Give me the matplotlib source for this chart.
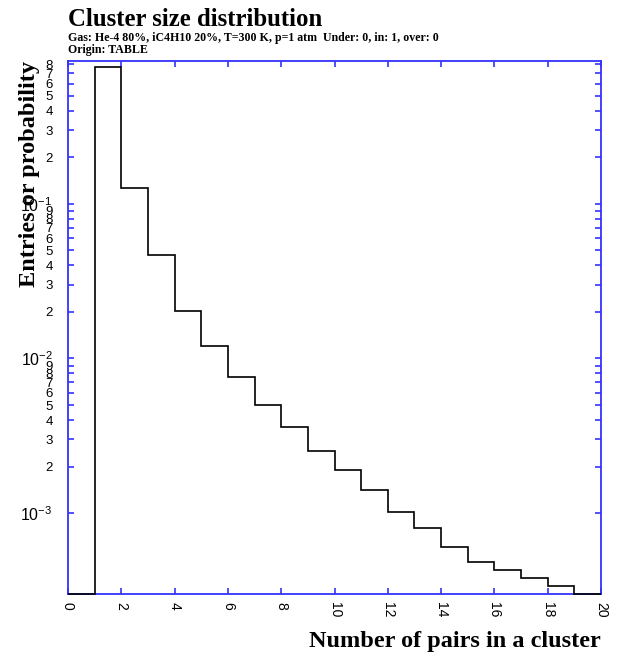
import numpy as np
import matplotlib
matplotlib.use('Agg')
import matplotlib.pyplot as plt
from matplotlib.ticker import FixedLocator, FixedFormatter

# cluster size distribution (probability per bin), bins 0..20
edges = np.arange(0, 21)
prob = [0.0, 0.773, 0.127, 0.0464, 0.0202, 0.0121, 0.00757, 0.00501, 0.00363,
        0.00252, 0.00191, 0.00142, 0.00101, 0.000805, 0.000607, 0.000483,
        0.000431, 0.000381, 0.000340, 0.0]
ylo, yhi = 3.0e-4, 0.839

title = 'Cluster size distribution'
subtitle = 'Gas: He-4 80%, iC4H10 20%, T=300 K, p=1 atm  Under: 0, in: 1, over: 0'
origin = 'Origin: TABLE'
xlab = 'Number of pairs in a cluster'
ylab = 'Entries or probability'

plt.rcParams['font.family'] = 'Liberation Sans'
plt.rcParams['mathtext.default'] = 'regular'

blue = '#3333ff'
serif = 'Liberation Serif'

fig = plt.figure(figsize=(6.4, 6.57), dpi=100)
ax = fig.add_axes([68/640, 1-594/657, (601-68)/640, (594-61)/657])

vals = np.maximum(np.array(prob), ylo)
ax.stairs(vals, edges, color='black', lw=1.2, baseline=None, zorder=5, clip_on=False)

ax.set_yscale('log')
ax.set_xlim(0, 20)
ax.set_ylim(ylo, yhi)

for s in ax.spines.values():
    s.set_color(blue)
    s.set_linewidth(1.3)

ax.set_xticks(np.arange(0, 21, 2))
ax.set_xticklabels([str(v) for v in range(0, 21, 2)], rotation=-90, fontsize=10)
ax.tick_params(axis='x', which='major', direction='in', top=True, bottom=True,
               length=4, width=1.2, color=blue, pad=6)

major = [1e-3, 1e-2, 1e-1]
minor = [n * 10.0**k for k in (-3, -2, -1) for n in range(2, 10)]
minor = [m for m in minor if ylo <= m <= yhi]
ax.yaxis.set_major_locator(FixedLocator(major))
ax.yaxis.set_major_formatter(FixedFormatter([r'$10^{-3}$', r'$10^{-2}$', r'$10^{-1}$']))
ax.yaxis.set_minor_locator(FixedLocator(minor))
ax.yaxis.set_minor_formatter(FixedFormatter([str(int(round(m / 10.0**np.floor(np.log10(m) + 1e-9)))) for m in minor]))
ax.tick_params(axis='y', which='both', direction='in', left=True, right=True,
               length=4, width=1.2, color=blue, pad=11)
ax.tick_params(axis='y', which='major', labelsize=11.5)
ax.tick_params(axis='y', which='minor', labelsize=9.5)

fig.text(68/640, 1-20/657, title, family=serif, weight='bold', fontsize=17.8, va='center', ha='left')
fig.text(68/640, 1-38/657, subtitle, family=serif, weight='bold', fontsize=8.6, va='center', ha='left')
fig.text(68/640, 1-50/657, origin, family=serif, weight='bold', fontsize=8.6, va='center', ha='left')
fig.text(601/640, 1-641/657, xlab, family=serif, weight='bold', fontsize=17.5, va='center', ha='right')
fig.text(30/640, 1-61/657, ylab, family=serif, weight='bold', fontsize=17.5, va='top', ha='center', rotation=90)

fig.savefig('out.png', dpi=100)
